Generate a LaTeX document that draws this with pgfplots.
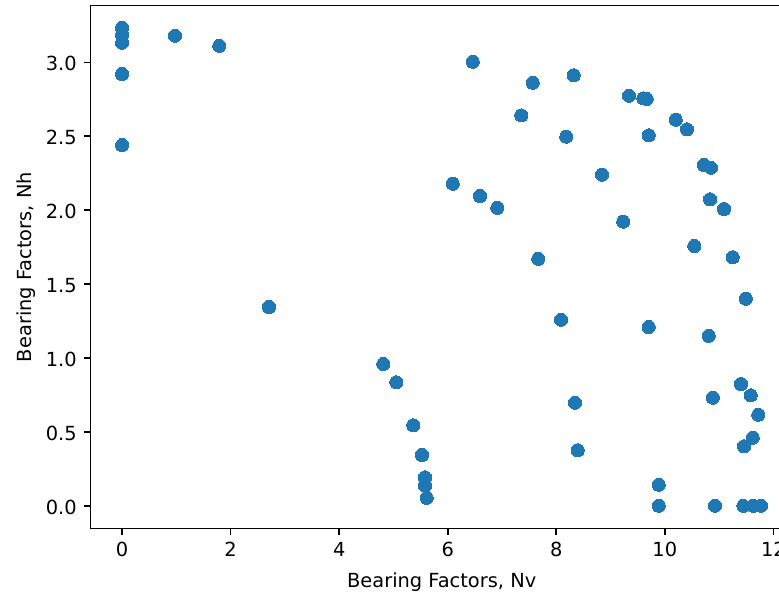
\documentclass[border=0pt]{standalone}
\usepackage{fontspec}
\setmainfont{DejaVu Sans}
\usepackage{pgfplots}
\pgfplotsset{compat=1.18}
\definecolor{mplblue}{HTML}{1F77B4}
\begin{document}
\fontsize{19.4bp}{23bp}\selectfont
\begin{tikzpicture}
\begin{axis}[
  scale only axis, width=702.4bp, height=522.8bp,
  xmin=-0.582, xmax=12.36, ymin=-0.154, ymax=3.383,
  xtick={0,2,4,6,8,10,12}, ytick={0,0.5,1,1.5,2,2.5,3},
  tick pos=left, tick align=outside, major tick length=6.8bp,
  axis line style={line width=1.56bp, black},
  every tick/.style={black, line width=1.56bp},
  /pgf/number format/assume math mode=true,
  tick label style={font=\fontsize{19.4bp}{23bp}\selectfont, inner sep=0pt},
  label style={font=\fontsize{19.4bp}{23bp}\selectfont},
  yticklabel style={/pgf/number format/fixed, /pgf/number format/fixed zerofill, /pgf/number format/precision=1, anchor=east, xshift=-6.8bp, yshift=-1.5bp},
  xticklabel style={anchor=north, yshift=-6.8bp},
  xlabel={Bearing Factors, Nv},
  ylabel={Bearing Factors, Nh},
  every axis x label/.style={at={(axis description cs:0.5,0)}, anchor=base, yshift=-58.8bp},
  every axis y label/.style={at={(axis description cs:0,0.5)}, xshift=-59bp, rotate=90, anchor=base},
]
\addplot[only marks, mark=*, mark size=6.6bp, mark options={fill=mplblue, draw=mplblue, line width=0pt}] table {
x y
0 3.234
0 3.185
0 3.133
0 2.921
0 2.440
0.975 3.180
1.791 3.112
2.707 1.344
4.813 0.959
5.053 0.835
5.366 0.544
5.526 0.343
5.581 0.192
5.581 0.135
5.612 0.054
6.460 3.004
7.566 2.862
8.321 2.912
7.356 2.641
8.185 2.497
9.340 2.774
9.604 2.756
9.666 2.752
9.703 2.506
10.201 2.612
10.409 2.547
10.722 2.305
10.851 2.287
10.833 2.073
11.091 2.007
10.544 1.757
11.251 1.681
6.092 2.179
6.595 2.095
6.914 2.016
8.843 2.240
9.235 1.922
7.669 1.671
11.491 1.401
8.087 1.258
9.703 1.209
10.809 1.150
11.404 0.823
11.583 0.747
10.883 0.731
8.345 0.697
11.723 0.616
11.620 0.460
11.459 0.402
8.395 0.375
9.888 0.142
9.888 0
10.925 0
11.447 0
11.631 0
11.773 0
};
\end{axis}
\pgfresetboundingbox
\useasboundingbox (-90.5bp,-64.5bp) rectangle (688.5bp,528.5bp);
\end{tikzpicture}
\end{document}
